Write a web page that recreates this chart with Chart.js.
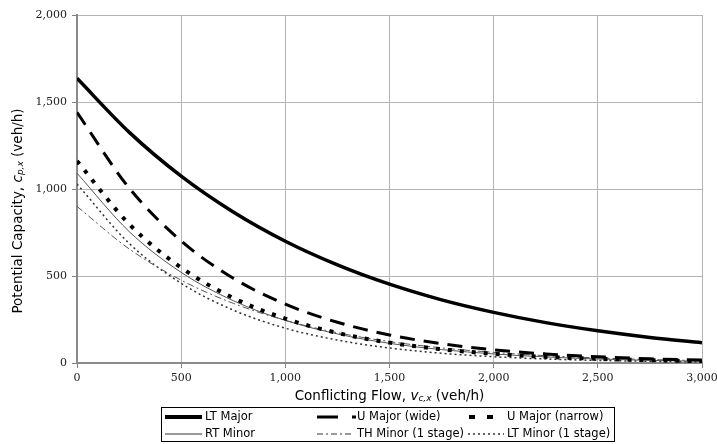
<!DOCTYPE html>
<html>
<head>
<meta charset="utf-8">
<script src="https://cdn.jsdelivr.net/npm/chart.js@4"></script>
<style>
  html, body { margin: 0; padding: 0; background: #fff; }
  #wrap { width: 717px; height: 444px; }
</style>
</head>
<body>
<div id="wrap"><canvas id="cap"></canvas></div>
<script>
// Conflicting flow (veh/h) and potential capacity (veh/h)
const flow = [0, 250, 500, 750, 1000, 1250, 1500, 1750, 2000, 2250, 2500, 2750, 3000];
const ltMajor      = [1636, 1327, 1074, 868, 700, 564, 453, 363, 291, 232, 185, 147, 117];
const uMajorWide   = [1440, 1006, 701, 487, 338, 234, 161, 111, 76, 52, 36, 24, 17];
const uMajorNarrow = [1161, 799, 548, 374, 255, 173, 117, 79, 53, 35, 24, 16, 10];
const rtMinor      = [1091, 756, 521, 358, 245, 167, 113, 77, 52, 35, 23, 15, 10];
const thMinor      = [900, 656, 476, 343, 245, 174, 123, 87, 61, 42, 29, 20, 14];
const ltMinor      = [1029, 688, 458, 304, 200, 132, 86, 56, 36, 23, 15, 10, 6];

const seriesNames = ['LT Major', 'U Major (wide)', 'U Major (narrow)', 'RT Minor', 'TH Minor (1 stage)', 'LT Minor (1 stage)'];
const xTicks = [0, 500, 1000, 1500, 2000, 2500, 3000];
const yTicks = [0, 500, 1000, 1500, 2000];

const pts = arr => arr.map((v, i) => ({ x: flow[i], y: v }));

const styles = [
  { color: '#000', width: 3.5, dash: [] },
  { color: '#000', width: 3, dash: [15, 9] },
  { color: '#000', width: 4, dash: [4, 8] },
  { color: '#555', width: 1, dash: [] },
  { color: '#555', width: 1, dash: [7, 3, 2, 3] },
  { color: '#333', width: 1.5, dash: [2, 3] }
];
const values = [ltMajor, uMajorWide, uMajorNarrow, rtMinor, thMinor, ltMinor];

const datasets = values.map((arr, i) => ({
  label: seriesNames[i],
  data: pts(arr),
  borderColor: styles[i].color,
  borderWidth: styles[i].width,
  borderDash: styles[i].dash,
  borderCapStyle: 'butt',
  pointRadius: 0,
  fill: false,
  cubicInterpolationMode: 'monotone'
}));

// draws italic subscripted text pieces one after the other
function drawPieces(ctx, pieces, x, y, align) {
  let total = 0;
  pieces.forEach(p => { ctx.font = p.font; total += ctx.measureText(p.t).width; });
  let cx = align === 'center' ? x - total / 2 : x;
  pieces.forEach(p => {
    ctx.font = p.font;
    ctx.fillText(p.t, cx, y + (p.dy || 0));
    cx += ctx.measureText(p.t).width;
  });
}

const extras = {
  id: 'extras',
  afterDraw(chart) {
    const ctx = chart.ctx;
    const area = chart.chartArea;
    ctx.save();
    ctx.fillStyle = '#000';
    ctx.textBaseline = 'middle';
    ctx.textAlign = 'left';

    const n = '13.5px "DejaVu Sans"', it = 'italic 13.5px "DejaVu Sans"', sub = 'italic 9px "DejaVu Sans"';
    // x axis title
    drawPieces(ctx, [
      { t: 'Conflicting Flow, ', font: n },
      { t: 'v', font: it },
      { t: 'c,x', font: sub, dy: 3 },
      { t: ' (veh/h)', font: n }
    ], (area.left + area.right) / 2, 396, 'center');

    // y axis title
    ctx.save();
    ctx.translate(18, 211);
    ctx.rotate(-Math.PI / 2);
    drawPieces(ctx, [
      { t: 'Potential Capacity, ', font: n },
      { t: 'c', font: it },
      { t: 'p,x', font: sub, dy: 3 },
      { t: ' (veh/h)', font: n }
    ], 0, 0, 'center');
    ctx.restore();

    // legend box
    ctx.strokeStyle = '#000';
    ctx.lineWidth = 1;
    ctx.setLineDash([]);
    ctx.strokeRect(161.5, 407.5, 453, 34);

    const items = [
      { x1: 165, x2: 202, tx: 205, y: 417, w: 4, dash: [], c: '#000' },
      { x1: 317, x2: 356, tx: 357, y: 417, w: 3, dash: [21, 14], c: '#000' },
      { x1: 469, x2: 494, tx: 507, y: 417, w: 4, dash: [6, 12], c: '#000' },
      { x1: 165, x2: 202, tx: 205, y: 434, w: 1, dash: [], c: '#333' },
      { x1: 317, x2: 354, tx: 357, y: 434, w: 1, dash: [6, 3, 2, 3], c: '#333' },
      { x1: 468, x2: 504, tx: 507, y: 434, w: 1.5, dash: [2, 3], c: '#333' }
    ];
    items.forEach((it2, i) => {
      ctx.beginPath();
      ctx.strokeStyle = it2.c;
      ctx.lineWidth = it2.w;
      ctx.setLineDash(it2.dash);
      ctx.lineCap = 'butt';
      ctx.moveTo(it2.x1, it2.y);
      ctx.lineTo(it2.x2, it2.y);
      ctx.stroke();
      ctx.setLineDash([]);
      ctx.font = '11.5px "DejaVu Sans"';
      ctx.fillStyle = '#000';
      ctx.fillText(seriesNames[i], it2.tx, it2.y + 0.5);
    });
    ctx.restore();
  }
};

const tickFont = { family: '"DejaVu Serif", serif', size: 11 };

new Chart(document.getElementById('cap'), {
  type: 'line',
  data: { datasets },
  options: {
    responsive: true,
    maintainAspectRatio: false,
    animation: false,
    layout: { padding: { top: 15, right: 15, left: 0, bottom: 0 } },
    plugins: {
      legend: { display: false },
      tooltip: { enabled: false }
    },
    scales: {
      x: {
        type: 'linear',
        min: 0,
        max: 3000,
        afterBuildTicks: s => { s.ticks = xTicks.map(v => ({ value: v })); },
        afterFit: s => { s.height = 81; s.paddingRight = 0; s.paddingLeft = 0; },
        ticks: {
          color: '#222',
          font: tickFont,
          padding: 4,
          maxRotation: 0,
          callback: v => v.toLocaleString('en-US')
        },
        grid: { color: '#b4b4b4', lineWidth: 1, tickLength: 5, tickColor: '#808080' },
        border: { color: '#8a8a8a', width: 2 }
      },
      y: {
        min: 0,
        max: 2000,
        afterBuildTicks: s => { s.ticks = yTicks.map(v => ({ value: v })); },
        afterFit: s => { s.width = 77; },
        ticks: {
          color: '#222',
          font: tickFont,
          padding: 5,
          callback: v => v.toLocaleString('en-US')
        },
        grid: { color: '#b4b4b4', lineWidth: 1, tickLength: 5, tickColor: '#808080' },
        border: { color: '#8a8a8a', width: 2 }
      }
    }
  },
  plugins: [extras]
});
</script>
</body>
</html>
